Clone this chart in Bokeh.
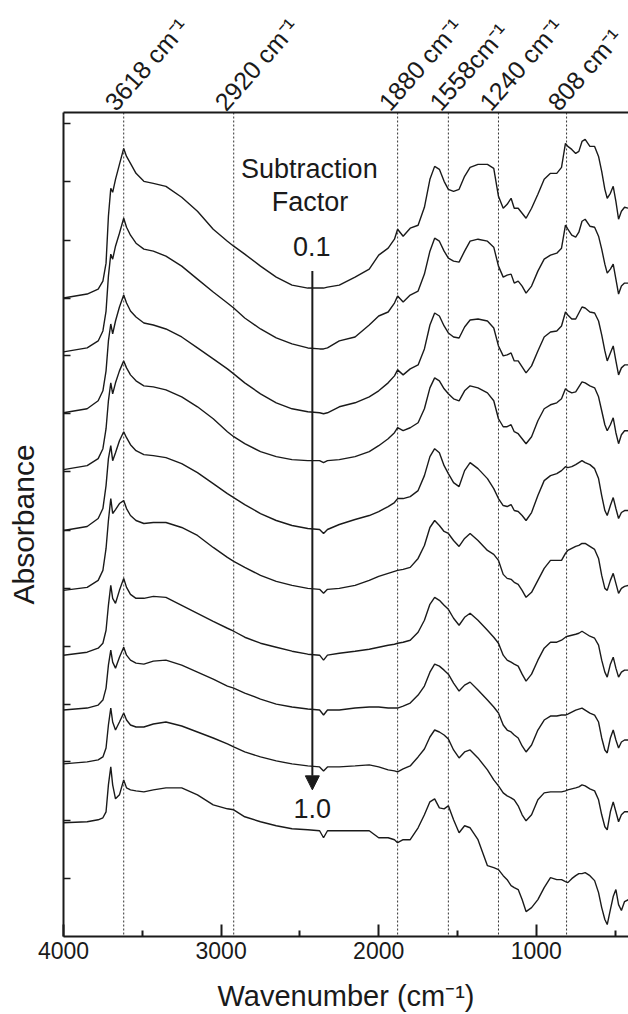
import math
from bokeh.plotting import figure
from bokeh.models import Range1d, LinearAxis, FixedTicker, Span, Label, Arrow, NormalHead
from bokeh.embed import file_html
from bokeh.resources import INLINE

# ---------------- data ----------------
wavenumber = [4000, 3850, 3780, 3750, 3730, 3715, 3700, 3688, 3670, 3645,
              3618, 3600, 3575, 3540, 3490, 3430, 3350, 3250, 3150, 3050,
              2960, 2920, 2850, 2750, 2650, 2550, 2450, 2375, 2350, 2325,
              2250, 2150, 2060, 2000, 1940, 1900, 1880, 1845, 1800, 1750,
              1710, 1675, 1645, 1615, 1585, 1558, 1525, 1490, 1455, 1420,
              1370, 1310, 1270, 1240, 1210, 1185, 1160, 1140, 1115, 1090,
              1065, 1030, 990, 950, 910, 870, 840, 815, 800, 775,
              750, 730, 710, 690, 660, 630, 605, 585, 565, 550,
              530, 512, 495, 478, 460, 440, 415]

subtraction_factors = ["0.1", "0.2", "0.3", "0.4", "0.5", "0.6", "0.7", "0.8", "0.9", "1.0"]

# stacked absorbance (arbitrary units)
absorbance_01 = [640, 644, 649, 657, 675, 722, 750, 746, 759, 774, 790, 782, 775, 765, 757, 755, 752, 741, 727, 709,
                 697, 692, 684, 672, 661, 653, 650, 650, 650, 651, 653, 661, 669, 683, 690, 699, 709, 702, 710, 713,
                 731, 759, 772, 769, 757, 749, 747, 749, 762, 771, 774, 774, 770, 742, 730, 734, 740, 730, 730, 725,
                 720, 730, 744, 759, 765, 765, 771, 795, 792, 789, 785, 787, 797, 799, 792, 792, 782, 767, 749, 740,
                 745, 752, 737, 719, 727, 731, 730]
absorbance_02 = [586, 590, 597, 607, 627, 662, 684, 679, 692, 705, 720, 711, 703, 695, 689, 687, 682, 672, 659, 646,
                 635, 630, 620, 609, 600, 594, 590, 589, 589, 590, 597, 601, 613, 622, 626, 635, 642, 636, 643, 647,
                 664, 687, 700, 697, 687, 680, 677, 676, 687, 697, 699, 697, 691, 672, 661, 663, 664, 655, 657, 652,
                 645, 652, 667, 679, 683, 685, 690, 713, 709, 703, 701, 706, 717, 719, 712, 711, 702, 689, 674, 665,
                 669, 674, 659, 644, 652, 655, 655]
absorbance_03 = [525, 529, 537, 547, 567, 597, 614, 604, 617, 631, 643, 635, 627, 621, 615, 613, 609, 601, 590, 579,
                 569, 564, 555, 544, 535, 529, 526, 525, 524, 525, 531, 535, 541, 547, 555, 562, 568, 563, 569, 573,
                 589, 613, 625, 622, 612, 605, 601, 600, 611, 618, 619, 617, 610, 592, 582, 583, 585, 577, 577, 571,
                 565, 572, 587, 601, 606, 607, 612, 626, 623, 619, 619, 625, 631, 630, 626, 625, 617, 603, 587, 577,
                 585, 592, 577, 563, 570, 573, 573]
absorbance_04 = [468, 472, 479, 489, 509, 537, 555, 544, 555, 567, 577, 570, 563, 557, 552, 551, 548, 541, 531, 519,
                 506, 501, 494, 486, 481, 478, 477, 477, 475, 477, 478, 481, 486, 492, 499, 505, 510, 507, 510, 515,
                 529, 550, 560, 557, 549, 544, 539, 537, 547, 552, 550, 545, 537, 519, 511, 511, 513, 506, 504, 499,
                 494, 501, 517, 529, 533, 535, 539, 549, 547, 545, 546, 551, 556, 555, 552, 550, 541, 527, 513, 507,
                 513, 520, 505, 494, 503, 507, 507]
absorbance_05 = [407, 411, 419, 429, 452, 479, 492, 477, 485, 497, 506, 500, 493, 487, 483, 482, 480, 474, 465, 454,
                 444, 440, 433, 424, 417, 412, 409, 408, 404, 408, 413, 418, 422, 426, 431, 435, 439, 439, 441, 447,
                 462, 481, 489, 485, 472, 464, 455, 451, 467, 475, 469, 459, 449, 439, 432, 431, 433, 427, 426, 422,
                 417, 425, 442, 457, 462, 464, 467, 471, 470, 471, 473, 475, 477, 475, 473, 469, 459, 442, 427, 422,
                 432, 440, 429, 419, 425, 427, 427]
absorbance_06 = [347, 350, 357, 367, 389, 417, 439, 424, 428, 434, 437, 429, 422, 417, 414, 415, 415, 410, 402, 390,
                 380, 376, 370, 362, 356, 352, 349, 348, 344, 348, 349, 352, 357, 361, 364, 366, 367, 368, 370, 379,
                 392, 410, 417, 412, 406, 404, 397, 391, 399, 404, 397, 387, 383, 377, 363, 359, 358, 355, 353, 347,
                 340, 345, 357, 369, 377, 377, 377, 384, 387, 389, 391, 392, 394, 394, 391, 388, 379, 362, 349, 347,
                 357, 364, 354, 344, 349, 351, 352]
absorbance_07 = [282, 285, 289, 294, 307, 332, 352, 339, 334, 347, 359, 350, 343, 339, 339, 341, 340, 332, 324, 316,
                 309, 306, 300, 294, 290, 286, 283, 282, 277, 282, 284, 286, 288, 290, 292, 293, 294, 295, 297, 305,
                 317, 333, 340, 337, 332, 328, 319, 312, 320, 324, 317, 307, 300, 294, 282, 277, 275, 273, 271, 263,
                 256, 263, 277, 289, 295, 295, 297, 300, 301, 302, 303, 304, 306, 304, 301, 299, 292, 277, 265, 260,
                 273, 280, 269, 260, 265, 267, 267]
absorbance_08 = [227, 229, 232, 237, 249, 272, 287, 275, 269, 280, 290, 282, 277, 274, 273, 276, 277, 272, 265, 258,
                 251, 249, 244, 238, 233, 230, 228, 227, 222, 227, 227, 229, 230, 230, 229, 229, 229, 231, 234, 242,
                 251, 265, 273, 271, 267, 263, 254, 246, 252, 255, 247, 237, 230, 224, 212, 207, 205, 202, 199, 191,
                 185, 192, 207, 217, 221, 221, 222, 222, 223, 225, 227, 228, 229, 227, 224, 222, 215, 199, 187, 184,
                 199, 207, 197, 189, 195, 197, 197]
absorbance_09 = [173, 175, 177, 180, 189, 212, 229, 215, 207, 215, 224, 217, 212, 210, 210, 213, 215, 211, 205, 199,
                 193, 190, 185, 180, 176, 173, 171, 170, 166, 170, 170, 171, 172, 170, 167, 166, 165, 168, 171, 180,
                 188, 200, 207, 205, 202, 198, 187, 179, 185, 187, 179, 167, 157, 151, 144, 141, 139, 137, 131, 122,
                 116, 122, 137, 144, 145, 145, 145, 146, 147, 148, 149, 150, 152, 151, 148, 146, 137, 122, 110, 107,
                 125, 135, 125, 115, 122, 125, 125]
absorbance_10 = [114, 115, 117, 119, 125, 152, 170, 152, 138, 142, 157, 149, 147, 146, 145, 147, 149, 149, 142, 132,
                 128, 127, 120, 115, 111, 108, 107, 106, 99, 106, 106, 106, 106, 99, 99, 97, 94, 97, 97, 109,
                 122, 135, 138, 129, 128, 131, 117, 104, 111, 109, 97, 71, 69, 67, 61, 57, 51, 49, 47, 37,
                 25, 29, 37, 49, 59, 57, 57, 55, 54, 58, 61, 63, 63, 64, 61, 56, 44, 29, 17, 12,
                 27, 40, 47, 32, 26, 35, 37]

peak_positions = [3618, 2920, 1880, 1558, 1240, 808]
peak_labels = ["3618 cm\u207b\u00b9", "2920 cm\u207b\u00b9", "1880 cm\u207b\u00b9",
               "1558cm\u207b\u00b9", "1240 cm\u207b\u00b9", "808 cm\u207b\u00b9"]
x_major_ticks = [4000, 3000, 2000, 1000]
x_minor_ticks = [3500, 2500, 1500, 500]
y_ticks = [58, 116, 175, 233, 291, 349, 407, 466, 524, 582, 640, 698, 757, 815]

# ---------------- figure ----------------
FONT = "Liberation Sans"
INK = "#1a1a1a"
X_START, X_END = 4000, 415
LABEL_SHIFT = 90   # moves the slanted peak labels slightly left of their dotted lines

p = figure(width=628, height=1014, x_range=Range1d(X_START, X_END), y_range=Range1d(0, 826),
           output_backend="svg", toolbar_location=None,
           min_border_left=63, min_border_right=0, min_border_top=111, min_border_bottom=77)
p.extra_x_ranges = {"peaklabels": Range1d(X_START - LABEL_SHIFT, X_END - LABEL_SHIFT)}
p.outline_line_color = None
p.xgrid.visible = False
p.ygrid.visible = False
p.background_fill_color = "white"
p.border_fill_color = "white"

for wn in peak_positions:
    p.add_layout(Span(location=wn, dimension="height", line_color="#333333",
                      line_width=1, line_dash="2 2", level="underlay"))

series = [absorbance_01, absorbance_02, absorbance_03, absorbance_04, absorbance_05,
          absorbance_06, absorbance_07, absorbance_08, absorbance_09, absorbance_10]
for ys in series:
    p.line(wavenumber, ys, line_color=INK, line_width=1.4)

# bottom axis
xa = p.xaxis[0]
xa.ticker = FixedTicker(ticks=x_major_ticks, minor_ticks=x_minor_ticks)
xa.axis_label = "Wavenumber (cm\u207b\u00b9)"
xa.axis_label_text_font = FONT
xa.axis_label_text_font_size = "29px"
xa.axis_label_text_font_style = "normal"
xa.axis_label_text_color = INK
xa.axis_label_standoff = 18
xa.major_label_text_font = FONT
xa.major_label_text_font_size = "23px"
xa.major_label_text_color = INK
xa.major_label_standoff = 5
xa.major_tick_in = 12
xa.major_tick_out = 0
xa.minor_tick_in = 6
xa.minor_tick_out = 0
xa.major_tick_line_width = 2
xa.minor_tick_line_width = 2
xa.axis_line_width = 2
xa.axis_line_color = INK
xa.major_tick_line_color = INK
xa.minor_tick_line_color = INK

# left axis (unlabelled ticks)
ya = p.yaxis[0]
ya.ticker = FixedTicker(ticks=y_ticks, minor_ticks=[])
ya.major_label_overrides = {t: "" for t in y_ticks}
ya.axis_label = "Absorbance"
ya.axis_label_text_font = FONT
ya.axis_label_text_font_size = "30px"
ya.axis_label_text_font_style = "normal"
ya.axis_label_text_color = INK
ya.axis_label_standoff = 24
ya.major_label_standoff = 0
ya.major_tick_in = 7
ya.major_tick_out = 0
ya.major_tick_line_width = 1.5
ya.major_tick_line_color = INK
ya.axis_line_width = 2
ya.axis_line_color = INK

# top axis carrying the slanted peak labels (also the top frame line)
top = LinearAxis(x_range_name="peaklabels",
                 ticker=FixedTicker(ticks=peak_positions, minor_ticks=[]),
                 major_label_overrides={k: v for k, v in zip(peak_positions, peak_labels)},
                 major_label_orientation=0.85)
top.major_label_text_font = FONT
top.major_label_text_font_size = "25px"
top.major_label_text_color = INK
top.major_label_standoff = 6
top.major_tick_in = 0
top.major_tick_out = 0
top.axis_line_width = 2
top.axis_line_color = INK
p.add_layout(top, "above")

# annotations
arrow_wn = 2421
for txt, yv, xv in [("Subtraction", 769, 2440), ("Factor", 736, 2436),
                    (subtraction_factors[0], 692, 2425), (subtraction_factors[-1], 128, 2421)]:
    p.add_layout(Label(x=xv, y=yv, text=txt, text_align="center", text_baseline="alphabetic",
                       text_font=FONT, text_font_size="27px", text_color=INK))

p.add_layout(Arrow(end=NormalHead(size=14, fill_color=INK, line_color=INK, line_width=1),
                   x_start=arrow_wn, y_start=667, x_end=arrow_wn, y_end=147,
                   line_color=INK, line_width=2))

open("out.html", "w").write(file_html(p, INLINE))
